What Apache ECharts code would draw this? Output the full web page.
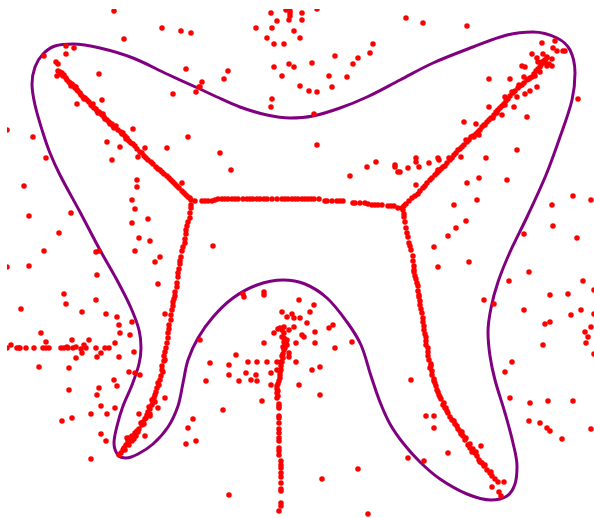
<!DOCTYPE html>
<html>
<head>
<meta charset="utf-8">
<title>principal curve</title>
<script src="https://cdn.jsdelivr.net/npm/echarts@6/dist/echarts.min.js"></script>
<style>
html, body { margin: 0; padding: 0; background: #fff; }
#chart { width: 594px; height: 518px; }
</style>
</head>
<body>
<div id="chart"></div>
<script>
// values, one list per arm of the shape
var armTopLeft = [[58,71],[60,72],[61,74],[62,73],[63,76],[64,75],[66,78],[67,80],[69,82],[70,83],[72,84],[74,86],[75,88],[77,90],[78,91],[80,93],[81,95],[83,97],[85,98],[87,100],[89,102],[91,105],[92,106],[94,108],[96,109],[97,111],[99,112],[100,113],[102,115],[104,117],[105,119],[107,120],[109,122],[112,124],[113,126],[115,127],[114,128],[121,132],[123,133],[122,134],[125,136],[127,138],[129,141],[131,143],[133,144],[135,146],[137,149],[140,152],[142,153],[144,156],[146,158],[148,160],[151,162],[153,164],[156,167],[158,169],[162,172],[164,174],[167,176],[169,178],[171,180],[173,182],[175,184],[177,186],[179,188],[182,191],[184,193],[188,197],[190,198],[191,200],[195,201],[71,86],[76,87],[84,99],[93,104],[98,113],[103,114],[110,124],[116,126],[118,130],[126,139],[160,170],[186,195]];
var armBridge = [[202,201],[205,201],[208,201],[212,201],[215,200],[218,199],[222,199],[225,199],[228,199],[232,199],[235,199],[238,199],[243,199],[247,199],[250,199],[253,199],[257,199],[260,199],[264,199],[267,199],[272,199],[277,199],[282,199],[285,199],[288,199],[292,199],[295,199],[298,199],[302,199],[305,199],[308,199],[311,199],[314,199],[319,199],[325,201],[327,201],[332,201],[337,201],[340,201],[343,201],[353,203],[355,203],[360,203],[365,203],[368,204],[372,205],[375,205],[378,205],[382,205],[388,206],[391,206],[394,206],[398,208],[402,208]];
var armTopRight = [[404,206],[406,204],[409,201],[412,198],[415,196],[418,194],[420,191],[423,188],[425,186],[427,183],[430,180],[432,178],[435,175],[437,173],[439,171],[441,169],[443,167],[445,166],[447,163],[450,160],[452,158],[454,155],[456,153],[458,150],[460,149],[462,147],[464,145],[467,142],[469,140],[471,137],[473,136],[476,134],[478,132],[480,130],[482,127],[484,125],[487,122],[489,120],[491,118],[494,115],[496,112],[498,110],[500,108],[502,106],[504,104],[506,101],[508,99],[510,96],[513,93],[515,91],[518,88],[520,86],[522,85],[524,83],[527,80],[530,78],[532,77],[534,74],[536,71],[538,69],[540,67],[541,65],[543,63],[544,61],[545,60],[547,58],[538,62],[543,54],[547,57],[552,59],[547,66],[552,66],[540,72],[542,62],[545,62],[549,64],[438,170],[449,158],[466,140],[474,137],[485,125],[497,113],[512,92],[519,85],[529,79],[493,118],[505,105],[535,76]];
var armBottomRight = [[403,210],[404,214],[404,217],[405,222],[406,228],[407,233],[408,237],[409,243],[410,246],[411,250],[413,256],[413,261],[414,266],[414,270],[414,272],[415,276],[416,279],[417,283],[418,286],[418,291],[419,295],[419,297],[420,301],[420,305],[421,309],[422,313],[423,318],[423,322],[424,326],[424,330],[425,334],[426,337],[426,341],[426,345],[428,348],[428,352],[428,356],[429,360],[431,364],[431,366],[432,371],[432,375],[434,379],[435,383],[436,386],[437,390],[439,395],[441,399],[443,405],[445,408],[447,411],[448,413],[450,417],[452,420],[455,424],[458,429],[460,431],[461,434],[463,436],[465,440],[468,445],[470,448],[473,449],[475,453],[477,456],[479,460],[482,463],[484,466],[487,470],[490,473],[492,476],[495,479],[498,482],[430,368],[434,381],[438,392],[446,408],[454,421],[462,432],[470,444],[476,452],[485,465],[491,472],[440,397],[444,403],[457,426],[466,438],[472,452],[480,462]];
var armBottomLeft = [[191,205],[191,208],[190,213],[190,218],[188,222],[187,226],[186,230],[186,234],[185,239],[185,243],[183,247],[182,251],[181,257],[180,261],[180,264],[179,269],[178,273],[178,277],[177,283],[177,287],[175,292],[175,296],[174,299],[173,302],[173,306],[172,310],[171,315],[171,320],[169,325],[169,329],[168,333],[168,338],[167,343],[166,348],[165,352],[164,356],[164,361],[162,366],[162,370],[161,376],[160,380],[158,383],[157,388],[155,395],[154,398],[153,402],[152,405],[150,409],[148,412],[147,415],[145,419],[143,422],[142,425],[139,429],[137,431],[135,433],[132,436],[130,440],[128,441],[126,445],[124,448],[123,450],[121,453],[119,455],[165,360],[163,372],[159,385],[156,392],[155,402],[150,414],[146,418],[141,423],[138,432],[132,441],[127,438],[129,445],[125,450],[152,400],[149,407],[144,424],[136,436],[134,439]];
var armCenter = [[279,511],[281,506],[281,503],[281,491],[281,489],[281,483],[281,477],[281,473],[281,468],[281,465],[281,461],[279,455],[279,451],[279,448],[279,441],[279,438],[279,433],[279,429],[279,423],[279,418],[279,416],[279,408],[279,406],[279,404],[277,398],[277,393],[277,389],[277,386],[279,381],[280,378],[280,375],[281,370],[281,366],[282,362],[283,358],[283,354],[284,350],[285,345],[284,338],[286,343],[284,327],[280,328],[278,329],[282,337],[287,340],[287,345],[285,348],[284,333],[282,330],[284,342],[283,347],[282,356],[281,362],[280,372],[278,384],[278,391],[278,396]];
var strayTop = [[114,11],[162,28],[181,31],[191,33],[124,39],[66,46],[74,48],[44,56],[66,54],[56,62],[58,64],[186,69],[99,74],[57,76],[173,94],[196,92],[199,87],[102,100],[77,104],[133,129],[7,130],[33,137],[188,137],[107,142],[120,147],[145,148],[167,148],[46,158],[112,160],[138,157],[286,10],[290,11],[290,13],[290,16],[302,13],[271,13],[317,9],[289,20],[302,20],[277,21],[256,28],[272,28],[294,31],[267,38],[300,38],[274,44],[284,44],[373,44],[370,53],[335,56],[358,58],[353,64],[312,63],[289,64],[294,67],[274,67],[228,71],[282,76],[329,76],[347,77],[224,79],[202,82],[200,87],[300,86],[332,87],[309,91],[317,92],[272,99],[271,107],[314,114],[317,145],[220,153],[231,170],[367,167],[376,162],[395,165],[395,167],[398,172],[350,176],[406,18],[423,23],[467,26],[542,43],[555,41],[553,48],[557,51],[563,51],[565,51],[532,54],[537,58],[522,66],[525,67],[489,79],[510,79],[524,77],[537,87],[530,91],[525,94],[517,97],[505,97],[489,107],[514,107],[578,99],[527,117],[502,115],[464,122],[476,124],[479,135],[517,150],[486,158],[461,157],[438,158],[439,160],[416,158],[416,162],[429,163],[419,167],[408,168],[400,172]];
var strayRight = [[416,185],[467,183],[479,178],[507,180],[477,200],[454,205],[466,221],[456,228],[448,236],[434,247],[438,267],[469,262],[573,196],[591,200],[552,205],[553,226],[524,234],[577,238],[529,272],[509,281],[583,281],[568,294],[550,295],[484,300],[494,304],[524,310],[581,310],[571,315],[550,322],[545,324],[591,327],[585,332],[588,337],[586,343],[543,345],[594,290],[594,314],[594,354],[512,362],[505,372],[510,398],[530,403],[548,401],[573,401],[529,421],[540,423],[547,428],[550,431],[562,439],[591,429],[411,380],[426,416],[434,416],[434,428],[448,453],[408,458],[424,461],[481,446],[492,487],[504,482],[499,492],[501,496]];
var strayCenter = [[213,246],[243,294],[244,297],[264,292],[264,295],[299,300],[314,305],[282,312],[310,312],[292,314],[287,317],[294,318],[300,318],[307,323],[333,325],[329,328],[294,327],[289,330],[274,333],[315,332],[302,335],[304,337],[352,342],[264,343],[296,343],[315,343],[335,348],[200,340],[236,355],[289,353],[289,357],[210,363],[248,362],[257,362],[267,362],[277,362],[296,362],[229,365],[320,367],[312,370],[277,370],[246,373],[271,373],[229,375],[256,375],[251,380],[239,381],[257,381],[206,381],[271,385],[299,385],[320,395],[262,401],[223,410],[358,469],[322,479],[229,495],[368,514]];
var strayLeft = [[137,180],[137,187],[24,186],[182,183],[132,200],[135,209],[29,216],[71,213],[148,219],[132,223],[59,233],[139,238],[150,241],[44,251],[135,251],[96,252],[99,251],[160,257],[155,262],[7,267],[29,266],[97,275],[158,284],[64,294],[66,304],[96,300],[21,309],[82,312],[106,314],[165,314],[117,317],[132,322],[119,325],[120,333],[130,335],[41,333],[72,340],[46,342],[89,340],[115,343],[11,345],[84,345],[76,347],[67,347],[7,348],[17,348],[19,348],[20,348],[26,348],[34,348],[43,348],[46,348],[49,348],[61,348],[64,348],[68,348],[73,348],[81,349],[86,348],[96,348],[105,348],[109,348],[134,352],[82,353],[101,353],[119,357],[97,357],[76,358],[39,367],[69,368],[129,372],[135,373],[140,375],[114,380],[117,386],[99,388],[69,390],[97,395],[165,398],[101,406],[115,408],[158,408],[91,414],[107,414],[139,414],[150,416],[72,418],[62,421],[193,419],[188,428],[101,434],[145,436],[106,441],[196,441],[186,444],[91,459],[129,438]];
var outline = [[200,89],[167,74],[133,58],[100,48],[73,44],[55,46],[43,54],[35,67],[32,84],[35,105],[43,133],[50,153],[60,175],[80,212],[100,250],[118,282],[131,308],[139,330],[141,348],[139,364],[132,385],[123,406],[117,426],[114,443],[118,455],[126,458],[138,454],[153,444],[168,427],[178,406],[183,383],[188,360],[198,338],[213,317],[233,298],[257,285],[283,280],[305,284],[327,298],[347,322],[361,345],[371,376],[380,402],[390,424],[403,443],[420,462],[440,479],[467,494],[491,500],[507,496],[515,484],[517,466],[513,443],[505,413],[495,380],[490,356],[488,332],[491,308],[498,282],[510,252],[527,217],[546,175],[560,137],[572,100],[575,73],[570,50],[557,38],[533,32],[507,35],[473,47],[433,63],[400,80],[367,97],[340,108],[313,116],[290,118],[267,115],[240,107],[217,97],[200,89]];

var dots = armTopLeft.concat(armBridge, armTopRight, armBottomRight, armBottomLeft, armCenter, strayTop, strayRight, strayCenter, strayLeft);

var myChart = echarts.init(document.getElementById('chart'));
var option = {
    animation: false,
    backgroundColor: '#fff',
    grid: { left: 7, top: 9, right: 0, bottom: 0 },
    xAxis: { type: 'value', min: 7, max: 594, show: false },
    yAxis: { type: 'value', min: 9, max: 518, inverse: true, show: false },
    // scatter only drops points, it does not cut them, so mask the two edges
    graphic: [
        { type: 'rect', z: 100, silent: true, shape: { x: 0, y: 0, width: 7, height: 518 }, style: { fill: '#fff' } },
        { type: 'rect', z: 100, silent: true, shape: { x: 0, y: 0, width: 594, height: 9 }, style: { fill: '#fff' } }
    ],
    series: [{
        type: 'line',
        data: outline,
        smooth: 0.34,
        showSymbol: false,
        lineStyle: { color: '#800080', width: 3 },
        z: 1
    }, {
        type: 'scatter',
        data: dots,
        symbolSize: 5.5,
        itemStyle: { color: '#ff0000', opacity: 1 },
        z: 2
    }]
};
myChart.setOption(option);
</script>
</body>
</html>
